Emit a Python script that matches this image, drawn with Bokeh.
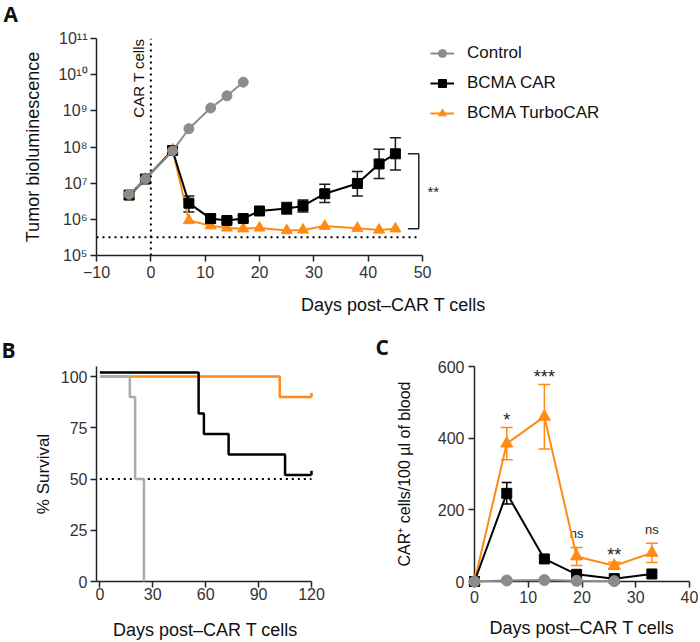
import math
from bokeh.plotting import figure
from bokeh.models import (Range1d, FixedTicker, CustomJSTickFormatter, Whisker, ColumnDataSource,
                          Legend, LegendItem, Label, TeeHead)
from bokeh.layouts import column, row
from bokeh.embed import file_html
from bokeh.resources import INLINE
from bokeh.core.properties import value

# ---------------- data ----------------
# Panel A: tumor bioluminescence
a_days = [-4, -1, 4, 7, 11, 14, 17, 20, 25, 28, 32, 38, 42, 45]
a_ctrl_days = [-4, -1, 4, 7, 11, 14, 17]
a_ctrl_vals = [4.9e6, 1.3e7, 7.8e7, 3.2e8, 1.2e9, 2.6e9, 6.2e9]
a_car_vals = [4.7e6, 1.3e7, 8.0e7, 2.8e6, 1.05e6, 9.3e5, 1.05e6, 1.7e6, 2.0e6, 2.35e6, 5.1e6, 9.8e6, 3.4e7, 6.5e7]
a_car_err_days = [7, 11, 14, 17, 20, 25, 28, 32, 38, 42, 45]
a_car_upper = [4.4e6, 1.3e6, 1.1e6, 1.25e6, 1.95e6, 2.9e6, 3.4e6, 9.3e6, 2.1e7, 8.7e7, 1.8e8]
a_car_lower = [1.6e6, 0.85e6, 0.8e6, 0.9e6, 1.5e6, 1.4e6, 1.6e6, 2.9e6, 4.4e6, 1.35e7, 2.3e7]
a_turbo_vals = [4.2e6, 1.3e7, 8.5e7, 9.3e5, 6.7e5, 5.8e5, 5.5e5, 5.8e5, 4.9e5, 5.1e5, 6.5e5, 5.7e5, 5.1e5, 5.5e5]
a_threshold = 3.2e5
a_ylim = [1e5, 1e11]
a_xticks = [-10, 0, 10, 20, 30, 40, 50]
a_yticks = [1e5, 1e6, 1e7, 1e8, 1e9, 1e10, 1e11]
a_sig = "**"

# Panel B: survival (Kaplan-Meier steps)
b_ctrl_days = [0, 17, 20, 25]
b_ctrl_surv = [100, 90, 50, 0]
b_car_days = [0, 56, 59, 73, 105, 120]
b_car_surv = [100, 80, 70, 60, 50, 50]
b_turbo_days = [0, 102, 120]
b_turbo_surv = [100, 90, 90]
b_median = 50
b_xticks = [0, 30, 60, 90, 120]
b_yticks = [0, 25, 50, 75, 100]

# Panel C: CAR+ cells in blood
c_days = [0, 6, 13, 19, 26, 33]
c_turbo = [0, 385, 460, 70, 44, 80]
c_turbo_err = [0, 45, 90, 25, 10, 27]
c_car = [0, 246, 63, 20, 8, 21]
c_car_err = [0, 30, 8, 5, 3, 5]
c_ctrl_days = [0, 6, 13, 19, 26]
c_ctrl = [0, 3, 4, 2, 1]
c_sig_days = [6, 13, 19, 26, 33]
c_sig = ["*", "***", "ns", "**", "ns"]
c_xticks = [0, 10, 20, 30, 40]
c_yticks = [0, 200, 400, 600]

# ---------------- styles ----------------
ORANGE = "#FF8A14"
GREY = "#8C8C8C"
LGREY = "#ABABAB"
BLACK = "#000000"
AXC = "#222222"
FONT = "Liberation Sans"
TICK_FS = "16px"


def style(p, xlab, ylab, xfs="18px", yfs="18px"):
    p.outline_line_color = None
    p.xgrid.visible = False
    p.ygrid.visible = False
    p.background_fill_color = "white"
    p.border_fill_color = "white"
    for ax in (p.xaxis[0], p.yaxis[0]):
        ax.axis_line_color = AXC
        ax.axis_line_width = 1.5
        ax.major_tick_line_color = AXC
        ax.major_tick_line_width = 1.5
        ax.major_tick_out = 6
        ax.major_tick_in = 0
        ax.minor_tick_line_color = None
        ax.major_label_text_font = FONT
        ax.major_label_text_font_size = TICK_FS
        ax.major_label_text_color = "#333333"
        ax.axis_label_text_font = FONT
        ax.axis_label_text_font_style = "normal"
        ax.axis_label_text_color = "#111111"
    p.xaxis.axis_label = xlab
    p.yaxis.axis_label = ylab
    p.xaxis.axis_label_text_font_size = xfs
    p.yaxis.axis_label_text_font_size = yfs


def letter(p, txt, x, y):
    # panel letter, drawn unclipped in the border area
    p.text(x=[x], y=[y], text=[txt], text_font=value("Open Sans"), text_font_style="bold",
           text_font_size="21px", text_baseline="top", text_align="left",
           text_color="#111111", level="overlay")


# ---------------- Panel A ----------------
pA = figure(width=700, height=330, output_backend="svg", toolbar_location=None,
            y_axis_type="log", x_range=Range1d(-10, 99.3), y_range=Range1d(a_ylim[0], a_ylim[1]),
            min_border_left=96, min_border_right=10, min_border_top=38, min_border_bottom=75)
style(pA, "Days post\u2013CAR T cells", "Tumor bioluminescence")
pA.xaxis.bounds = (a_xticks[0], a_xticks[-1])
pA.yaxis.bounds = (a_ylim[0], a_ylim[1])
pA.xaxis.ticker = FixedTicker(ticks=a_xticks)
pA.xaxis.major_label_overrides = {t: (("\u2212" + str(-t)) if t < 0 else str(t)) for t in a_xticks}
pA.yaxis.ticker = FixedTicker(ticks=a_yticks)
pA.yaxis.formatter = CustomJSTickFormatter(code="""
const sup = {'0':'\u2070','1':'\u00b9','2':'\u00b2','3':'\u00b3','4':'\u2074','5':'\u2075','6':'\u2076','7':'\u2077','8':'\u2078','9':'\u2079'};
const e = Math.round(Math.log10(tick));
return '10' + String(e).split('').map(c => sup[c]).join('');
""")
pA.xaxis.major_label_standoff = 4
pA.xaxis.axis_label_standoff = 14
pA.yaxis.major_label_standoff = 3
pA.yaxis.axis_label_standoff = 12

# reference lines
pA.segment(x0=[a_xticks[0]], y0=[a_threshold], x1=[49], y1=[a_threshold],
           line_color=BLACK, line_width=2, line_dash="2 4")
pA.segment(x0=[0], y0=[a_ylim[0]], x1=[0], y1=[a_ylim[1]],
           line_color=BLACK, line_width=2, line_dash="2 4")
pA.add_layout(Label(x=-2.3, y=a_ylim[1], text="CAR T cells", angle=math.pi / 2,
                    text_align="right", text_baseline="middle", text_font=FONT,
                    text_font_size="15px", text_color="#111111"))

# error bars (BCMA CAR)
errA = ColumnDataSource(dict(x=a_car_err_days, upper=a_car_upper, lower=a_car_lower))
pA.add_layout(Whisker(source=errA, base="x", upper="upper", lower="lower", dimension="height",
                      line_color="#1a1a1a", line_width=1.5, level="underlay",
                      upper_head=TeeHead(size=11, line_color="#1a1a1a", line_width=1.5),
                      lower_head=TeeHead(size=11, line_color="#1a1a1a", line_width=1.5)))

lt = pA.line(a_days, a_turbo_vals, line_color=ORANGE, line_width=2)
st = pA.scatter(a_days, a_turbo_vals, marker="triangle", size=11, fill_color=ORANGE, line_color=ORANGE)
lc = pA.line(a_days, a_car_vals, line_color=BLACK, line_width=2)
sc = pA.scatter(a_days, a_car_vals, marker="square", size=10, fill_color=BLACK, line_color=BLACK)
lg = pA.line(a_ctrl_days, a_ctrl_vals, line_color=GREY, line_width=2)
sg = pA.scatter(a_ctrl_days, a_ctrl_vals, marker="circle", size=10, fill_color=GREY, line_color=GREY)

# significance bracket
br_x = 49.3
br_tick = 2.0
pA.segment(x0=[br_x, br_x - br_tick, br_x - br_tick], y0=[a_car_vals[-1], a_car_vals[-1], a_turbo_vals[-1]],
           x1=[br_x, br_x, br_x], y1=[a_turbo_vals[-1], a_car_vals[-1], a_turbo_vals[-1]],
           line_color="#222222", line_width=1.5)
pA.text(x=[br_x + 1.6], y=[math.sqrt(a_car_vals[-1] * a_turbo_vals[-1])], text=[a_sig],
        text_font=value(FONT), text_font_size="15px", text_baseline="middle", text_align="left",
        text_color="#222222")

legA = Legend(items=[LegendItem(label="Control", renderers=[lg, sg]),
                     LegendItem(label="BCMA CAR", renderers=[lc, sc]),
                     LegendItem(label="BCMA TurboCAR", renderers=[lt, st])],
              location=(334, 132), border_line_color=None, background_fill_alpha=0,
              padding=0, margin=0, spacing=10, glyph_width=24, glyph_height=20,
              label_height=20, label_standoff=13, label_text_font=FONT,
              label_text_font_size="17px", label_text_color="#111111")
pA.add_layout(legA)
letter(pA, "A", -27.1, 10 ** (11 + 39 / 36.17))

# ---------------- Panel B ----------------
b_offset = 2  # visual offset of the BCMA CAR curve (avoids overlap)
pB = figure(width=350, height=312, output_backend="svg", toolbar_location=None,
            x_range=Range1d(-1.9, 121.7), y_range=Range1d(0, 104.9),
            min_border_left=96, min_border_right=36, min_border_top=36, min_border_bottom=61)
style(pB, "Days post\u2013CAR T cells", "% Survival", yfs="17px")
pB.xaxis.ticker = FixedTicker(ticks=b_xticks)
pB.yaxis.ticker = FixedTicker(ticks=b_yticks)
pB.xaxis.bounds = (-1.9, b_xticks[-1])
pB.xaxis.major_label_standoff = 0
pB.xaxis.axis_label_standoff = 17
pB.yaxis.major_label_standoff = 3
pB.yaxis.axis_label_standoff = 5

pB.segment(x0=[b_xticks[0]], y0=[b_median], x1=[b_xticks[-1]], y1=[b_median],
           line_color=BLACK, line_width=2, line_dash="2 4")
pB.step(b_turbo_days, b_turbo_surv, mode="after", line_color=ORANGE, line_width=2.5)
pB.segment(x0=[b_turbo_days[-1]], y0=[b_turbo_surv[-1]], x1=[b_turbo_days[-1]], y1=[b_turbo_surv[-1] + 2],
           line_color=ORANGE, line_width=2.5)
car_disp = [v + b_offset for v in b_car_surv]
pB.step(b_car_days, car_disp, mode="after", line_color=BLACK, line_width=2.5)
pB.segment(x0=[b_car_days[-1]], y0=[car_disp[-1]], x1=[b_car_days[-1]], y1=[car_disp[-1] + 2],
           line_color=BLACK, line_width=2.5)
pB.step(b_ctrl_days, b_ctrl_surv, mode="after", line_color=LGREY, line_width=2.5, level="overlay")
letter(pB, "B", -1.9 - 95 / 1.764, 104.9 + 31 / 2.05)

# ---------------- Panel C ----------------
pC = figure(width=350, height=312, output_backend="svg", toolbar_location=None,
            x_range=Range1d(0, 40), y_range=Range1d(0, 600),
            min_border_left=124, min_border_right=11, min_border_top=36, min_border_bottom=60)
style(pC, "Days post\u2013CAR T cells", "CAR\u207a cells/100 \u00b5l of blood", yfs="16px")
pC.xaxis.ticker = FixedTicker(ticks=c_xticks)
pC.yaxis.ticker = FixedTicker(ticks=c_yticks)
pC.xaxis.major_label_standoff = 3
pC.xaxis.axis_label_standoff = 12
pC.yaxis.major_label_standoff = 4
pC.yaxis.axis_label_standoff = 22

errT = ColumnDataSource(dict(x=c_days, upper=[v + e for v, e in zip(c_turbo, c_turbo_err)],
                             lower=[v - e for v, e in zip(c_turbo, c_turbo_err)]))
errC = ColumnDataSource(dict(x=c_days, upper=[v + e for v, e in zip(c_car, c_car_err)],
                             lower=[v - e for v, e in zip(c_car, c_car_err)]))
pC.add_layout(Whisker(source=errT, base="x", upper="upper", lower="lower", dimension="height",
                      line_color=ORANGE, line_width=1.5, level="underlay",
                      upper_head=TeeHead(size=12, line_color=ORANGE, line_width=1.5),
                      lower_head=TeeHead(size=12, line_color=ORANGE, line_width=1.5)))
pC.add_layout(Whisker(source=errC, base="x", upper="upper", lower="lower", dimension="height",
                      line_color=BLACK, line_width=1.5, level="underlay",
                      upper_head=TeeHead(size=10, line_color=BLACK, line_width=1.5),
                      lower_head=TeeHead(size=10, line_color=BLACK, line_width=1.5)))

pC.line(c_days, c_turbo, line_color=ORANGE, line_width=2, level="overlay")
pC.scatter(c_days, c_turbo, marker="triangle", size=12, fill_color=ORANGE, line_color=ORANGE, level="overlay")
pC.line(c_days, c_car, line_color=BLACK, line_width=2, level="overlay")
pC.scatter(c_days, c_car, marker="square", size=10, fill_color=BLACK, line_color=BLACK, level="overlay")
pC.line(c_ctrl_days, c_ctrl, line_color=GREY, line_width=2, level="overlay")
pC.scatter(c_ctrl_days, c_ctrl, marker="circle", size=11, fill_color=GREY, line_color=GREY, level="overlay")

sig_y = [c_turbo[c_days.index(d)] + c_turbo_err[c_days.index(d)] for d in c_sig_days]
sig_sizes = ["13px" if s == "ns" else "18px" for s in c_sig]
sig_dy = [-6 if s == "ns" else 3 for s in c_sig]
sigsrc = ColumnDataSource(dict(x=c_sig_days, y=sig_y, t=c_sig, fs=sig_sizes, dy=sig_dy))
pC.text(x="x", y="y", text="t", source=sigsrc, text_font=value(FONT), text_font_size="fs",
        text_align="center", text_baseline="bottom", y_offset="dy", text_color="#222222")
letter(pC, "C", -(124 - 25) / 5.375, 600 + 34 / 0.36)

layout = column(pA, row(pB, pC))
open("out.html", "w", encoding="utf-8").write(file_html(layout, INLINE))
